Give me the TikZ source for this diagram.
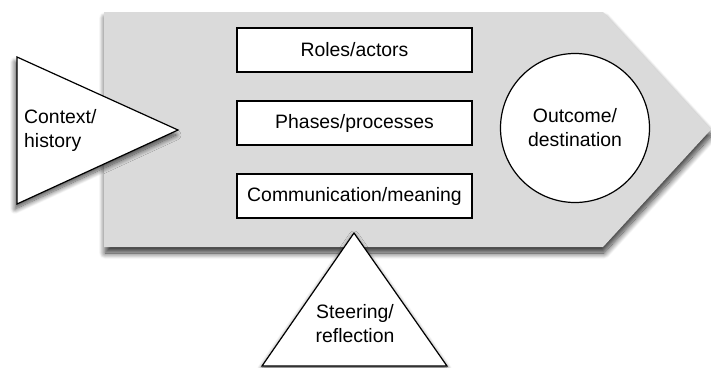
\documentclass[tikz,border=0pt]{standalone}
\usepackage{fontspec}
\setmainfont{Liberation Sans}
\usetikzlibrary{shadows.blur}
\definecolor{bodygray}{RGB}{218,218,218}
\begin{document}
\begin{tikzpicture}[x=1pt,y=-1pt,
  txt/.style={font=\fontsize{19.4}{24}\selectfont, align=center, inner sep=0pt},
  box/.style={draw=black, line width=1.2pt, fill=white, minimum width=235pt, minimum height=44pt, font=\fontsize{19.4}{24}\selectfont, inner sep=0pt},
  shad/.style={blur shadow={shadow xshift=1pt, shadow yshift=-6pt, shadow blur radius=6pt, shadow blur steps=14, shadow opacity=80}},
  tri/.style={draw=black, line width=1.2pt, fill=white, line join=miter}
]
\useasboundingbox (0,0) rectangle (711,367);
% main arrow body
\path[fill=bodygray, shad] (104,12) -- (603,12) -- (711,129.5) -- (603,247) -- (104,247) -- cycle;
% outcome circle
\node[circle, draw=black, line width=1.2pt, fill=white, minimum size=149pt, inner sep=0pt, txt] (out) at (575,128) {Outcome/\\destination};
% boxes
\node[box] (roles) at (354.5,50) {Roles/actors};
\node[box] (phases) at (354.5,123) {Phases/processes};
\node[box] (comm) at (354.5,196) {Communication/meaning};
% context triangle
\path[tri, blur shadow={shadow xshift=-2pt, shadow yshift=-5pt, shadow blur radius=5pt, shadow blur steps=12, shadow opacity=70}] (17,57) -- (178,130) -- (17,204) -- cycle;
\node[txt, align=left, anchor=west] (ctx) at (24,130) {Context/\\history};
% steering triangle
\path[tri, blur shadow={shadow xshift=0pt, shadow yshift=-3pt, shadow blur radius=5pt, shadow blur steps=12, shadow opacity=65}] (354,233) -- (447,366) -- (262,366) -- cycle;
\node[txt] (steer) at (355,324) {Steering/\\reflection};
\end{tikzpicture}
\end{document}
